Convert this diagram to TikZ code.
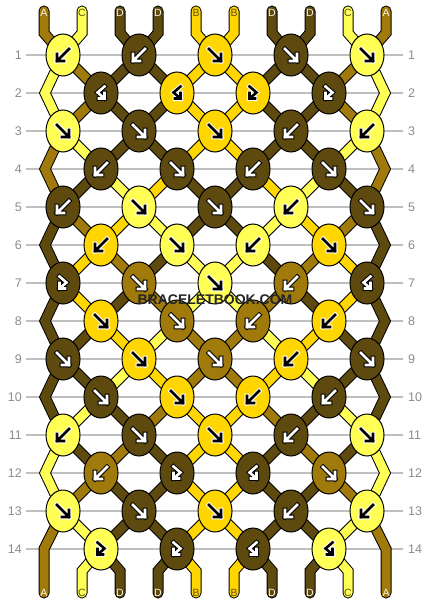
\documentclass[tikz,border=0pt]{standalone}
\usepackage{fontspec}
\setmainfont{Liberation Sans}
\usetikzlibrary{shapes.geometric}
\pgfdeclarelayer{back}
\pgfdeclarelayer{strands}
\pgfsetlayers{back,strands,main}
\definecolor{colA}{RGB}{160,122,10}
\definecolor{colB}{RGB}{255,214,0}
\definecolor{colC}{RGB}{255,255,85}
\definecolor{colD}{RGB}{94,74,14}
\definecolor{lw}{RGB}{248,248,235}
\definecolor{ld}{RGB}{95,78,25}
\colorlet{wIn}{white}\colorlet{wOut}{black}
\colorlet{kIn}{black}\colorlet{kOut}{white}
\newcommand\mystrand[2]{\draw[strandout] #2; \draw[strandin, draw=#1] #2;}
\tikzset{
  knot/.style={ellipse, draw=black, line width=1pt, minimum width=34pt, minimum height=42pt, inner sep=0pt},
  gridline/.style={draw=black!25, line width=1.2pt},
  rownum/.style={text=black!45, font=\fontsize{12.5}{12.5}\selectfont, inner sep=0pt},
  endlbl/.style={font=\fontsize{10.5}{10.5}\selectfont, inner sep=0pt},
  strandout/.style={draw=black, line width=11pt, line cap=round, line join=miter, miter limit=10},
  strandin/.style={line width=9pt, line cap=round, line join=miter, miter limit=10},
  arr/.style={line cap=rect, line join=miter},
  pics/af/.style={code={
    \draw[arr, line width=4.6pt, draw=#1Out] (-6,-6)--(6,6) (-1,6)--(6,6)--(6,-1);
    \draw[arr, line width=2.6pt, draw=#1In] (-6,-6)--(6,6) (-1,6)--(6,6)--(6,-1);
  }},
  pics/ab/.style={code={
    \draw[arr, line width=4.6pt, draw=#1Out] (6,-6)--(-6,6) (1,6)--(-6,6)--(-6,-1);
    \draw[arr, line width=2.6pt, draw=#1In] (6,-6)--(-6,6) (1,6)--(-6,6)--(-6,-1);
  }},
  pics/afb/.style={code={
    \draw[arr, line width=4.6pt, draw=#1Out] (-3.5,-6.5)--(3.5,-0.5)--(-3.5,5.5) (2,5.5)--(-3.5,5.5)--(-3.5,0);
    \draw[arr, line width=2.6pt, draw=#1In] (-3.5,-6.5)--(3.5,-0.5)--(-3.5,5.5) (2,5.5)--(-3.5,5.5)--(-3.5,0);
  }},
  pics/abf/.style={code={
    \draw[arr, line width=4.6pt, draw=#1Out] (3.5,-6.5)--(-3.5,-0.5)--(3.5,5.5) (-2,5.5)--(3.5,5.5)--(3.5,0);
    \draw[arr, line width=2.6pt, draw=#1In] (3.5,-6.5)--(-3.5,-0.5)--(3.5,5.5) (-2,5.5)--(3.5,5.5)--(3.5,0);
  }}
}
\begin{document}
\begin{tikzpicture}[x=1pt,y=-1pt]
\useasboundingbox (0,0) rectangle (430,604);
\begin{pgfonlayer}{back}
\fill[white] (0,0) rectangle (430,604);
\end{pgfonlayer}
% row numbers and grid lines
\foreach \r in {1,...,14}{
  \pgfmathsetmacro{\yy}{55+38*(\r-1)}
  \node[rownum, anchor=east] (nl\r) at (22,\yy) {\r};
  \node[rownum, anchor=west] (nr\r) at (408,\yy) {\r};
  \begin{pgfonlayer}{back}
  \draw[gridline, shorten <=4pt, shorten >=5pt] (nl\r.east) -- (nr\r.west);
  \end{pgfonlayer}
}
% knots
\foreach \r/\lst in {
 1/{C/b/k,D/b/w,B/f/k,D/f/w,C/f/k},
 2/{D/bf/w,B/bf/k,B/fb/k,D/fb/w},
 3/{C/f/k,D/f/w,B/f/k,D/b/w,C/b/k},
 4/{D/b/w,D/f/w,D/b/w,D/f/w},
 5/{D/b/w,C/f/k,D/f/w,C/b/k,D/f/w},
 6/{B/b/k,C/f/k,C/b/k,B/f/k},
 7/{D/fb/w,A/f/w,C/f/k,A/b/w,D/bf/w},
 8/{B/f/k,A/f/w,A/b/w,B/b/k},
 9/{D/f/w,B/f/k,A/f/w,B/b/k,D/f/w},
 10/{D/f/w,B/f/k,B/b/k,D/b/w},
 11/{C/b/k,D/f/w,B/f/k,D/b/w,C/f/k},
 12/{A/b/w,D/fb/w,D/bf/w,A/f/w},
 13/{C/f/k,D/f/w,B/f/k,D/b/w,C/b/k},
 14/{C/fb/k,D/fb/w,D/bf/w,C/bf/k}}{
  \pgfmathsetmacro{\yy}{55+38*(\r-1)}
  \pgfmathsetmacro{\xo}{isodd(\r) ? 63 : 101}
  \foreach \c/\s/\t [count=\k] in \lst {
    \pgfmathsetmacro{\xx}{\xo+76*(\k-1)}
    \node[knot, fill=col\c] (k\r-\k) at (\xx,\yy) {};
    \pic at (\xx,\yy) {a\s=\t};
  }
}
% strand end points
\foreach \i/\tl/\tc/\bl/\bc in {1/A/lw/A/lw,2/C/ld/C/ld,3/D/lw/D/lw,4/D/lw/D/lw,5/B/ld/B/ld,6/B/ld/B/ld,7/D/lw/D/lw,8/D/lw/D/lw,9/C/ld/C/ld,10/A/lw/A/lw}{
  \pgfmathsetmacro{\sx}{44+38*(\i-1)}
  \coordinate (T\i) at (\sx,11);
  \coordinate (U\i) at (\sx,33);
  \coordinate (V\i) at (\sx,571);
  \coordinate (E\i) at (\sx,593);
  \node[endlbl, text=\tc] (tl\i) at (\sx,12.5) {\tl};
  \node[endlbl, text=\bc] (bl\i) at (\sx,592.5) {\bl};
}
\foreach \r in {2,4,...,12}{
  \coordinate (L\r) at (45,{55+38*(\r-1)});
  \coordinate (R\r) at (385,{55+38*(\r-1)});
}
\coordinate (L14) at (44,549);
\coordinate (R14) at (386,549);
\begin{pgfonlayer}{strands}
\mystrand{colA}{(T1) -- (U1) -- (k1-1.center) -- (k2-1.center) -- (k3-1.center) -- (L4) -- (k5-1.center) -- (k6-1.center) -- (k7-2.center) -- (k8-2.center) -- (k9-3.center) -- (k10-3.center) -- (k11-4.center) -- (k12-4.center) -- (k13-5.center) -- (R14) -- (E10)}
\mystrand{colC}{(T2) -- (U2) -- (k1-1.center) -- (L2) -- (k3-1.center) -- (k4-1.center) -- (k5-2.center) -- (k6-2.center) -- (k7-3.center) -- (k8-3.center) -- (k9-4.center) -- (k10-4.center) -- (k11-5.center) -- (R12) -- (k13-5.center) -- (k14-4.center) -- (V9) -- (E9)}
\mystrand{colD}{(T3) -- (U3) -- (k1-2.center) -- (k2-2.center) -- (k3-2.center) -- (k4-1.center) -- (k5-1.center) -- (L6) -- (k7-1.center) -- (L8) -- (k9-1.center) -- (k10-1.center) -- (k11-2.center) -- (k12-2.center) -- (k13-2.center) -- (k14-1.center) -- (V3) -- (E3)}
\mystrand{colD}{(T4) -- (U4) -- (k1-2.center) -- (k2-1.center) -- (k3-2.center) -- (k4-2.center) -- (k5-3.center) -- (k6-3.center) -- (k7-4.center) -- (k8-4.center) -- (k9-5.center) -- (R10) -- (k11-5.center) -- (k12-4.center) -- (k13-4.center) -- (k14-3.center) -- (V7) -- (E7)}
\mystrand{colB}{(T5) -- (U5) -- (k1-3.center) -- (k2-3.center) -- (k3-3.center) -- (k4-2.center) -- (k5-2.center) -- (k6-1.center) -- (k7-1.center) -- (k8-1.center) -- (k9-2.center) -- (k10-2.center) -- (k11-3.center) -- (k12-3.center) -- (k13-3.center) -- (k14-2.center) -- (V5) -- (E5)}
\mystrand{colB}{(T6) -- (U6) -- (k1-3.center) -- (k2-2.center) -- (k3-3.center) -- (k4-3.center) -- (k5-4.center) -- (k6-4.center) -- (k7-5.center) -- (k8-4.center) -- (k9-4.center) -- (k10-3.center) -- (k11-3.center) -- (k12-2.center) -- (k13-3.center) -- (k14-3.center) -- (V6) -- (E6)}
\mystrand{colD}{(T7) -- (U7) -- (k1-4.center) -- (k2-4.center) -- (k3-4.center) -- (k4-3.center) -- (k5-3.center) -- (k6-2.center) -- (k7-2.center) -- (k8-1.center) -- (k9-1.center) -- (L10) -- (k11-1.center) -- (k12-1.center) -- (k13-2.center) -- (k14-2.center) -- (V4) -- (E4)}
\mystrand{colD}{(T8) -- (U8) -- (k1-4.center) -- (k2-3.center) -- (k3-4.center) -- (k4-4.center) -- (k5-5.center) -- (R6) -- (k7-5.center) -- (R8) -- (k9-5.center) -- (k10-4.center) -- (k11-4.center) -- (k12-3.center) -- (k13-4.center) -- (k14-4.center) -- (V8) -- (E8)}
\mystrand{colC}{(T9) -- (U9) -- (k1-5.center) -- (R2) -- (k3-5.center) -- (k4-4.center) -- (k5-4.center) -- (k6-3.center) -- (k7-3.center) -- (k8-2.center) -- (k9-2.center) -- (k10-1.center) -- (k11-1.center) -- (L12) -- (k13-1.center) -- (k14-1.center) -- (V2) -- (E2)}
\mystrand{colA}{(T10) -- (U10) -- (k1-5.center) -- (k2-4.center) -- (k3-5.center) -- (R4) -- (k5-5.center) -- (k6-4.center) -- (k7-4.center) -- (k8-3.center) -- (k9-3.center) -- (k10-2.center) -- (k11-2.center) -- (k12-1.center) -- (k13-1.center) -- (L14) -- (E1)}
\end{pgfonlayer}
\node[font=\bfseries\fontsize{14}{14}\selectfont, text=black!85, inner sep=0pt] (wm) at (215,300) {BRACELETBOOK.COM};
\end{tikzpicture}
\end{document}
